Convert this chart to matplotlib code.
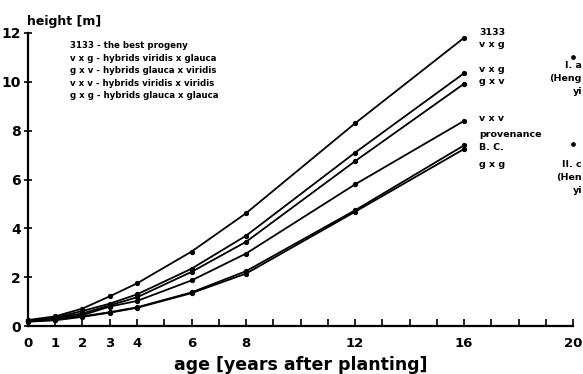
import matplotlib.pyplot as plt

plt.rcParams['font.family'] = ['DejaVu Sans']
plt.rcParams['font.weight'] = 'bold'

# age [years after planting]
ages = [0, 1, 2, 3, 4, 6, 8, 12, 16]

# mean heights [m]
h_3133 = [0.25, 0.40, 0.72, 1.22, 1.75, 3.05, 4.62, 8.30, 11.80]
h_vxg = [0.22, 0.35, 0.62, 0.92, 1.30, 2.35, 3.70, 7.10, 10.35]
h_gxv = [0.22, 0.33, 0.52, 0.85, 1.18, 2.22, 3.45, 6.75, 9.92]
h_vxv = [0.20, 0.30, 0.45, 0.80, 1.03, 1.87, 2.97, 5.80, 8.40]
h_bc = [0.20, 0.26, 0.40, 0.57, 0.77, 1.38, 2.25, 4.74, 7.40]
h_gxg = [0.18, 0.24, 0.38, 0.55, 0.75, 1.35, 2.15, 4.68, 7.25]

series = [h_3133, h_vxg, h_gxv, h_vxv, h_bc, h_gxg]

# yield table points at age 20
table_ages = [20, 20]
table_heights = [11.0, 7.45]

# labels at the line ends (baseline height, text)
end_labels = [(11.92, '3133'), (11.43, 'v x g'), (10.41, 'v x g'), (9.92, 'g x v'),
              (8.41, 'v x v'), (7.76, 'provenance'), (7.22, 'B. C.'), (6.5, 'g x g')]

legend_lines = ['3133 - the best progeny',
                'v x g - hybrids viridis x glauca',
                'g x v - hybrids glauca x viridis',
                'v x v - hybrids viridis x viridis',
                'g x g - hybrids glauca x glauca']

# labels of the yield table points, cut by the right edge in the original
table_labels = [(10.55, 'I. a'), (10.02, '(Heng'), (9.49, 'yi'),
                (6.5, 'II. c'), (5.97, '(Hen'), (5.44, 'yi')]

fig = plt.figure(figsize=(5.83, 3.74), dpi=100)
ax = fig.add_axes([0.048, 0.128, 0.935, 0.784])

for s in series:
    ax.plot(ages, s, color='black', lw=1.3, marker='o', ms=2.8, clip_on=False)

ax.plot(table_ages, table_heights, 'o', color='black', ms=2.4, clip_on=False)

ax.set_xlim(0, 20)
ax.set_ylim(0, 12)
ax.spines['top'].set_visible(False)
ax.spines['right'].set_visible(False)
ax.spines['left'].set_linewidth(1.6)
ax.spines['bottom'].set_linewidth(1.6)

ax.set_xticks(range(0, 21))
ax.set_xticklabels([str(i) if i in (0, 1, 2, 3, 4, 6, 8, 12, 16, 20) else '' for i in range(21)])
ax.set_yticks(range(0, 13, 2))
ax.tick_params(axis='x', direction='in', length=5, width=1.2, labelsize=9.5, pad=8)
ax.tick_params(axis='y', direction='inout', length=6, width=1.2, labelsize=10, pad=2)
for lbl in ax.get_xticklabels() + ax.get_yticklabels():
    lbl.set_fontweight('bold')

ax.set_xlabel('age [years after planting]', fontsize=12.5, fontweight='bold', labelpad=4)
fig.text(0.046, 0.933, 'height [m]', fontsize=9, fontweight='bold')

for y, txt in end_labels:
    ax.text(16.55, y, txt, fontsize=6.8, va='baseline', ha='left')

for i, txt in enumerate(legend_lines):
    ax.text(1.54, 11.47 - i * 0.51, txt, fontsize=6.2, va='center', ha='left')

for y, txt in table_labels:
    fig.text(0.998, (ax.transData.transform((0, y))[1]) / fig.dpi / 3.74, txt,
             fontsize=6.8, ha='right', va='baseline')

fig.savefig('out.png', dpi=100)
